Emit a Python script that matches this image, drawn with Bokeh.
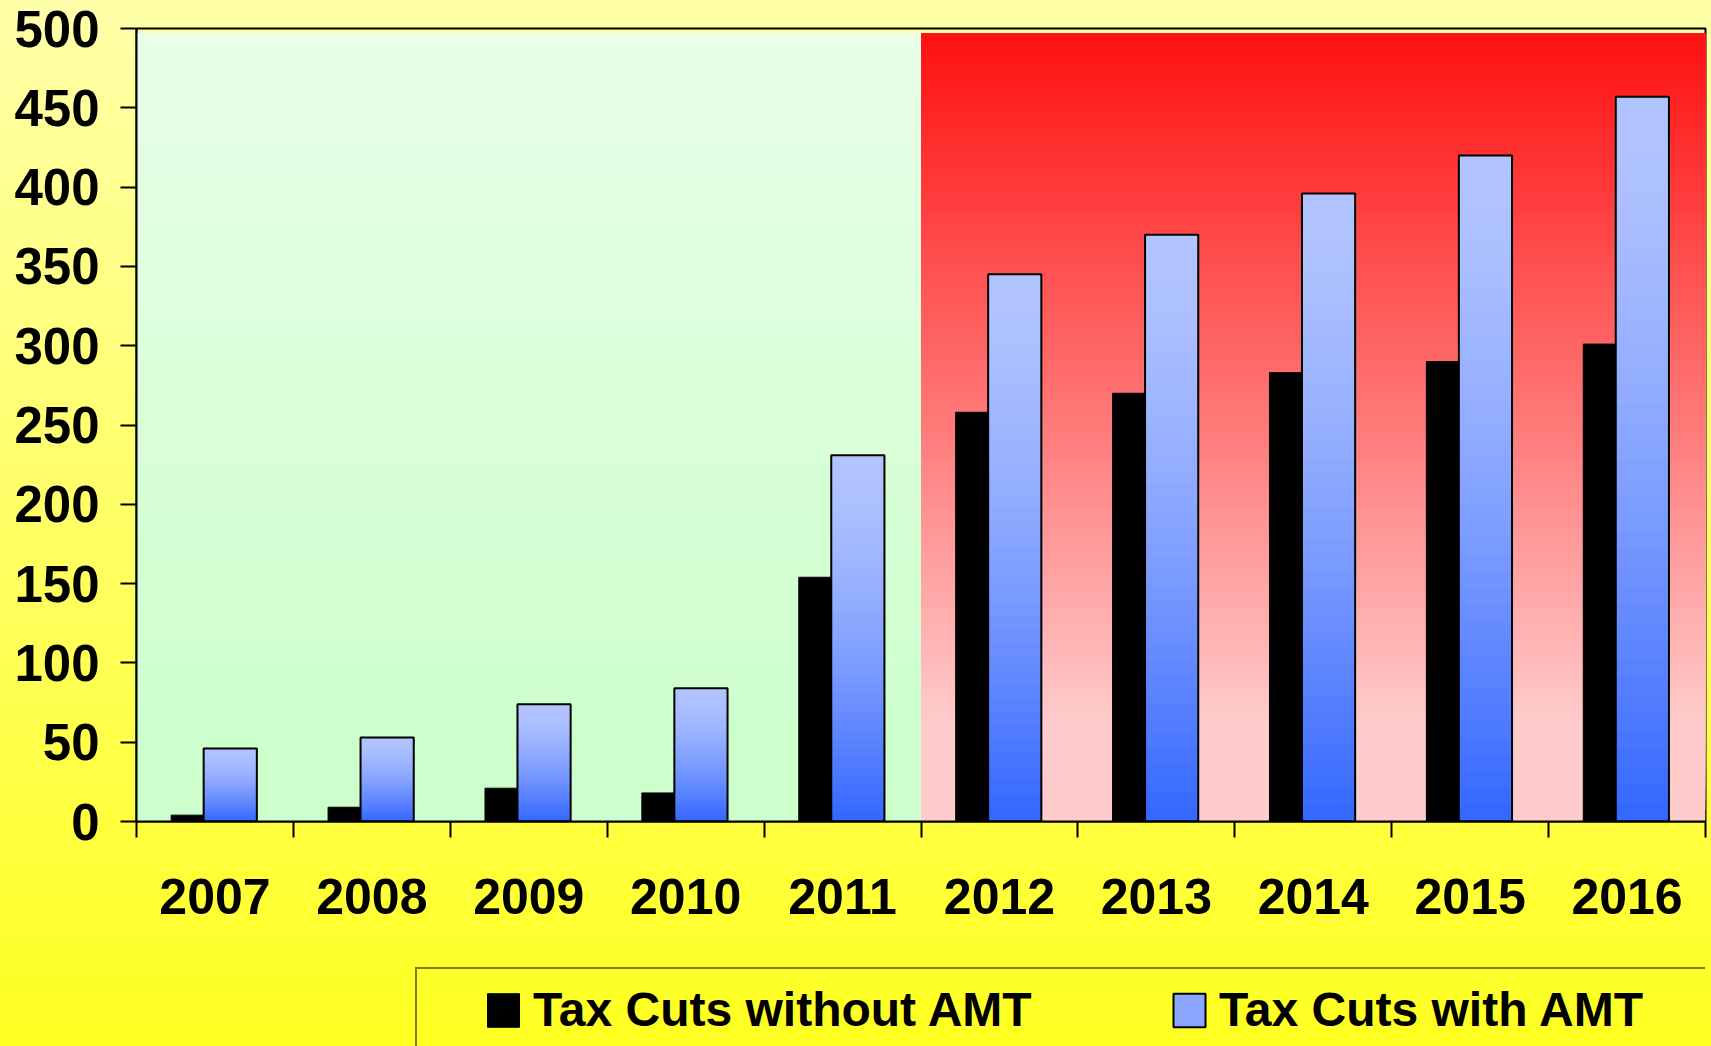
import numpy as np
from bokeh.plotting import figure
from bokeh.layouts import column
from bokeh.models import Range1d, FixedTicker, Legend, LegendItem
from bokeh.embed import file_html
from bokeh.resources import INLINE

# ---------------- data ----------------
years = ["2007", "2008", "2009", "2010", "2011", "2012", "2013", "2014", "2015", "2016"]
without_amt = [4, 9, 21, 18, 154, 258, 270, 283, 290, 301]
with_amt = [46, 53, 74, 84, 231, 345, 370, 396, 420, 457]
y_ticks = [0, 50, 100, 150, 200, 250, 300, 350, 400, 450, 500]
series_names = ["Tax Cuts without AMT", "Tax Cuts with AMT"]
split_year = "2012"

# ---------------- helpers ----------------
def hex2rgb(h):
    h = h.lstrip("#")
    return [int(h[i:i + 2], 16) for i in (0, 2, 4)]

def mix(c0, c1, t):
    a, b = hex2rgb(c0), hex2rgb(c1)
    return "#%02x%02x%02x" % tuple(int(round(a[i] + (b[i] - a[i]) * t)) for i in range(3))

FONT = "Liberation Sans"
W, H = 1711, 1046
H1 = 940
BG_TOP, BG_BOT = "#FFFFAA", "#FFFF22"
BG_MID = mix(BG_TOP, BG_BOT, H1 / H)
n = len(years)

p = figure(width=W, height=H1, output_backend="svg", toolbar_location=None,
           x_range=Range1d(0, n), y_range=Range1d(y_ticks[0], y_ticks[-1]),
           min_border_left=136, min_border_right=6, min_border_top=28,
           min_border_bottom=H1 - 821)
p.styles = {"background": f"linear-gradient(to bottom, {BG_TOP} 0%, {BG_MID} 100%)"}
p.background_fill_alpha = 0
p.border_fill_alpha = 0
p.outline_line_color = "black"
p.outline_line_width = 2
p.grid.visible = False

# ---------------- background bands (gradient) ----------------
band_top = 496.8
split = years.index(split_year)
NB = 70
for (x0, x1, c_top, c_bot, knee) in [(0, split, "#E8FFE8", "#CCFFCC", 0.92),
                                      (split, n, "#FF1010", "#FFCCCC", 0.88)]:
    bots, cols = [], []
    for k in range(NB):
        bots.append(band_top * k / NB)
        f = 1 - (k + 0.5) / NB  # fraction from top
        cols.append(mix(c_top, c_bot, min(1.0, f / knee)))
    p.quad(left=[x0] * NB, right=[x1] * NB, bottom=bots, top=[band_top] * NB,
           fill_color=cols, line_color=None)

# ---------------- bars ----------------
xs = np.arange(n)
blk_l, blk_r = xs + 0.221, xs + 0.428
blu_l, blu_r = xs + 0.428, xs + 0.767

p.quad(left=blk_l, right=blk_r, bottom=0, top=without_amt,
       fill_color="black", line_color="black", line_width=1)

NS = 40
sl, sr, sb, st, sc = [], [], [], [], []
for i, v in enumerate(with_amt):
    for k in range(NS):
        sl.append(blu_l[i]); sr.append(blu_r[i])
        sb.append(v * k / NS); st.append(v)
        f = 1 - (k + 0.5) / NS
        sc.append(mix("#B2C4FF", "#3366FF", f ** 1.5))
p.quad(left=sl, right=sr, bottom=sb, top=st, fill_color=sc, line_color=None)
p.quad(left=blu_l, right=blu_r, bottom=0, top=with_amt,
       fill_alpha=0, line_color="black", line_width=2)

# ---------------- axes ----------------
ya = p.yaxis[0]
ya.ticker = FixedTicker(ticks=y_ticks)
ya.major_label_text_font = FONT
ya.major_label_text_font_style = "bold"
ya.major_label_text_font_size = "51px"
ya.major_label_text_color = "black"
ya.major_label_standoff = 21
ya.major_tick_out = 16
ya.major_tick_in = 0
ya.major_tick_line_width = 2
ya.minor_tick_line_color = None
ya.axis_line_width = 2

xa = p.xaxis[0]
centers = [i + 0.5 for i in range(n)]
xa.ticker = FixedTicker(ticks=centers, minor_ticks=list(range(n + 1)))
xa.major_label_overrides = {c: y for c, y in zip(centers, years)}
xa.major_label_text_font = FONT
xa.major_label_text_font_style = "bold"
xa.major_label_text_font_size = "50px"
xa.major_label_text_color = "black"
xa.major_label_standoff = 41
xa.major_tick_out = 0
xa.major_tick_in = 0
xa.major_tick_line_color = None
xa.minor_tick_out = 16
xa.minor_tick_in = 0
xa.minor_tick_line_width = 2
xa.minor_tick_line_color = "black"
xa.axis_line_width = 2

# ---------------- legend strip (second figure) ----------------
p2 = figure(width=W, height=H - H1, output_backend="svg", toolbar_location=None,
            x_range=Range1d(0, n), y_range=Range1d(y_ticks[0], y_ticks[-1]),
            x_axis_type=None, y_axis_type=None,
            min_border_left=136, min_border_top=26, min_border_right=6,
            min_border_bottom=0)
p2.styles = {"background": f"linear-gradient(to bottom, {BG_MID} 0%, {BG_BOT} 100%)"}
p2.background_fill_alpha = 0
p2.border_fill_alpha = 0
p2.outline_line_color = None
p2.grid.visible = False

lr_black = p2.quad(left=blk_l, right=blk_r, bottom=0, top=without_amt,
                   fill_color="black", line_color="black", line_width=1, visible=False)
lr_blue = p2.quad(left=blu_l, right=blu_r, bottom=0, top=with_amt,
                  fill_color="#8CA5FF", line_color="black", line_width=2, visible=False)

legend = Legend(items=[LegendItem(label=series_names[0], renderers=[lr_black]),
                       LegendItem(label=series_names[1], renderers=[lr_blue])],
                orientation="horizontal", location=(279, -6),
                border_line_color="black", border_line_width=2,
                background_fill_alpha=0, padding=13, spacing=130,
                label_standoff=10, glyph_width=40, glyph_height=42,
                label_width=506, label_text_color="black",
                label_text_font=FONT, label_text_font_style="bold",
                label_text_font_size="48px", margin=0,
                title=" ", title_location="left", title_text_font_size="20px",
                title_standoff=30)
p2.add_layout(legend, "center")

layout = column(p, p2, spacing=0)
open("out.html", "w").write(file_html(layout, INLINE))
